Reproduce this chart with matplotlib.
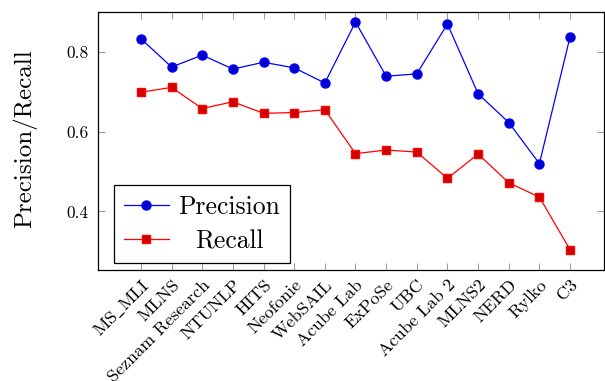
import numpy as np
import matplotlib
matplotlib.use("Agg")
import matplotlib.pyplot as plt

plt.rcParams['font.family'] = ['cmr10', 'DejaVu Serif']
plt.rcParams['mathtext.fontset'] = 'cm'
plt.rcParams['axes.unicode_minus'] = False

systems = [r"MS$\_$MLI", "MLNS", "Seznam Research", "NTUNLP", "HITS", "Neofonie",
           "WebSAIL", "Acube Lab", "ExPoSe", "UBC", "Acube Lab 2", "MLNS2",
           "NERD", "Rylko", "C3"]
precision = [0.833, 0.762, 0.792, 0.757, 0.774, 0.760, 0.722, 0.875,
             0.739, 0.745, 0.870, 0.695, 0.623, 0.520, 0.838]
recall = [0.699, 0.711, 0.658, 0.675, 0.646, 0.648, 0.655, 0.545,
          0.554, 0.549, 0.483, 0.544, 0.472, 0.436, 0.304]
yticks = [0.4, 0.6, 0.8]

fig = plt.figure(figsize=(6.05, 3.81), dpi=100)
ax = fig.add_axes([0.162, 0.291, 0.836, 0.6775])

x = np.arange(len(systems))
ax.plot(x, precision, color="blue", lw=0.9, marker="o", ms=6.5,
        mfc="#0000cc", mec="blue", label="Precision")
ax.plot(x, recall, color="red", lw=0.9, marker="s", ms=6,
        mfc="#cc0000", mec="red", label="Recall")

ax.set_xlim(-1.4, 15.1)
ax.set_ylim(0.253, 0.90)
ax.set_xticks(x)
ax.set_xticklabels(systems, rotation=45, ha="right", rotation_mode="anchor",
                   fontsize=13)
ax.set_yticks(yticks)
ax.set_yticklabels([f"{v:.1f}" for v in yticks], fontsize=12.5)
ax.tick_params(direction="in", top=True, right=True, length=5, width=0.6,
               color="#888888", pad=7)
ax.tick_params(axis="x", pad=5)
for s in ax.spines.values():
    s.set_linewidth(0.9)
ax.set_ylabel("Precision/Recall", fontsize=18)
ax.yaxis.set_label_coords(-0.12, 0.51)

leg = ax.legend(loc="lower left", bbox_to_anchor=(0.032, 0.027), fontsize=18.5,
                fancybox=False, edgecolor="black", framealpha=1,
                handlelength=1.75, borderpad=0.38, labelspacing=0.42,
                handletextpad=0.35, borderaxespad=0)
leg.get_frame().set_linewidth(0.9)
# centre the shorter label under the longer one
leg.get_texts()[1].set_x(17)

fig.savefig("out.png", dpi=100)
